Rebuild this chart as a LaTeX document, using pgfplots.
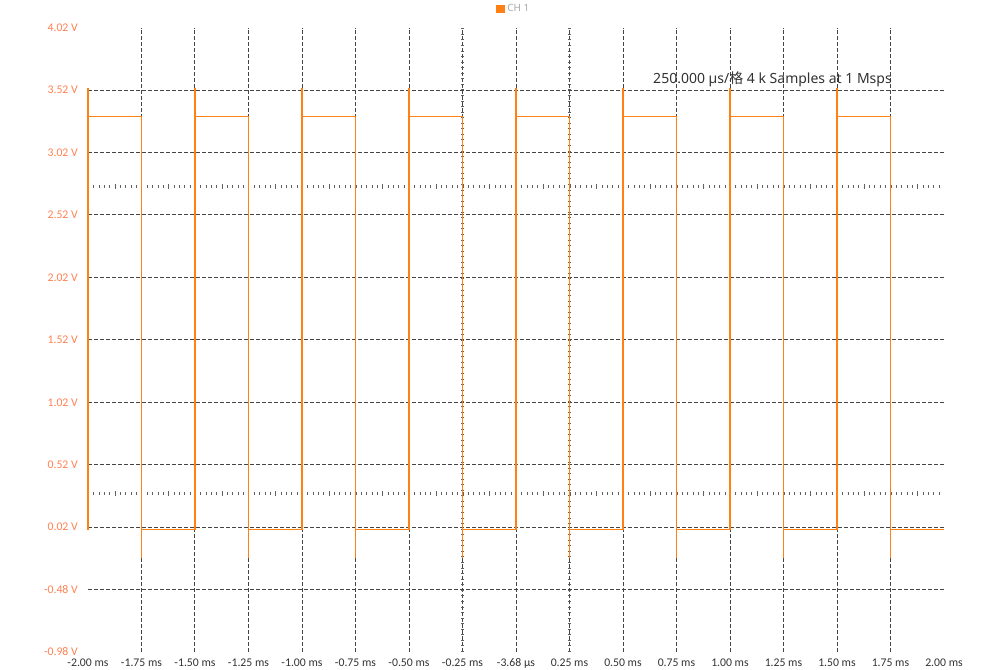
\documentclass[border=0pt]{standalone}
\usepackage{pgfplots}
\pgfplotsset{compat=1.18}
\usepackage{fontspec}
\setmainfont{Noto Sans}
\newfontfamily\tickfont{Carlito}
\newfontfamily\cjk{Noto Sans CJK SC}
\definecolor{trace}{RGB}{255,128,20}
\definecolor{ylab}{RGB}{255,128,80}
\definecolor{gridc}{RGB}{68,68,68}
\definecolor{titlec}{RGB}{50,50,50}
\definecolor{legc}{RGB}{170,170,170}
\begin{document}
\begin{tikzpicture}
\path[use as bounding box] (-66pt,-12.75pt) rectangle (687pt,489pt);
\begin{axis}[
  at={(0,0)}, anchor=south west,
  scale only axis, width=642pt, height=468.3pt,
  xmin=-2, xmax=2, ymin=-0.98, ymax=4.02,
  axis line style={draw=none},
  major tick length=0pt, minor tick length=0pt,
  xtick={-2,-1.75,-1.5,-1.25,-1,-0.75,-0.5,-0.25,0,0.25,0.5,0.75,1,1.25,1.5,1.75,2},
  xticklabels={-2.00 ms,-1.75 ms,-1.50 ms,-1.25 ms,-1.00 ms,-0.75 ms,-0.50 ms,-0.25 ms,-3.68 µs,0.25 ms,0.50 ms,0.75 ms,1.00 ms,1.25 ms,1.50 ms,1.75 ms,2.00 ms},
  ytick={-0.98,-0.48,0.02,0.52,1.02,1.52,2.02,2.52,3.02,3.52,4.02},
  yticklabels={-0.98 V,-0.48 V,0.02 V,0.52 V,1.02 V,1.52 V,2.02 V,2.52 V,3.02 V,3.52 V,4.02 V},
  extra x ticks={-1.75,-1.5,-1.25,-1,-0.75,-0.5,-0.25,0,0.25,0.5,0.75,1,1.25,1.5,1.75},
  extra x tick labels={},
  extra x tick style={grid=major},
  extra y ticks={-0.48,0.02,0.52,1.02,1.52,2.02,2.52,3.02,3.52},
  extra y tick labels={},
  extra y tick style={grid=major},
  major grid style={gridc, line width=0.75pt, dash pattern=on 3pt off 1.5pt},
  xticklabel style={font=\tickfont\fontsize{8.8}{10}\selectfont, text=titlec, anchor=base, inner sep=0pt, yshift=-11pt},
  yticklabel style={font=\tickfont\fontsize{8.8}{10}\selectfont, text=ylab, anchor=east, inner sep=0pt, xshift=-7.5pt},
  legend style={at={(axis description cs:0.498,1)}, anchor=center, yshift=14pt, draw=none, fill=none,
    font=\fontsize{7.5}{9}\selectfont, text=legc, inner sep=0pt},
  legend image code/.code={\fill[trace] (0pt,-2.6pt) rectangle (5.2pt,2.6pt);},
  clip=false,
]
% ruler decorations
\addplot[gridc!85, line width=2.4pt, dash pattern=on 0.75pt off 3.2625pt, forget plot] coordinates {(-1.975,2.75) (1.99,2.75)};
\addplot[gridc!85, line width=2.4pt, dash pattern=on 0.75pt off 3.2625pt, forget plot] coordinates {(-1.975,0.29) (1.99,0.29)};
\addplot[gridc!85, line width=3.9pt, dash pattern=on 0.75pt off 39.375pt, forget plot] coordinates {(-1.875,2.75) (1.9,2.75)};
\addplot[gridc!85, line width=3.9pt, dash pattern=on 0.75pt off 39.375pt, forget plot] coordinates {(-1.875,0.29) (1.9,0.29)};
\addplot[gridc!85, line width=2.25pt, dash pattern=on 0.75pt off 3.42pt, forget plot] coordinates {(-0.25,-0.98) (-0.25,4.02)};
\addplot[gridc!85, line width=2.25pt, dash pattern=on 0.75pt off 3.42pt, forget plot] coordinates {(0.25,-0.98) (0.25,4.02)};
% trace
\addplot[trace, line width=1pt, line join=miter] coordinates {
(-2,0.0) (-2,3.535) (-2,3.31) (-1.75,3.31) (-1.75,-0.228) (-1.75,0.0)
(-1.5,0.0) (-1.5,3.535) (-1.5,3.31) (-1.25,3.31) (-1.25,-0.228) (-1.25,0.0)
(-1,0.0) (-1,3.535) (-1,3.31) (-0.75,3.31) (-0.75,-0.228) (-0.75,0.0)
(-0.5,0.0) (-0.5,3.535) (-0.5,3.31) (-0.25,3.31) (-0.25,-0.228) (-0.25,0.0)
(0,0.0) (0,3.535) (0,3.31) (0.25,3.31) (0.25,-0.228) (0.25,0.0)
(0.5,0.0) (0.5,3.535) (0.5,3.31) (0.75,3.31) (0.75,-0.228) (0.75,0.0)
(1,0.0) (1,3.535) (1,3.31) (1.25,3.31) (1.25,-0.228) (1.25,0.0)
(1.5,0.0) (1.5,3.535) (1.5,3.31) (1.75,3.31) (1.75,-0.228) (1.75,0.0)
(2,0.0)
};
\addlegendentry{CH 1}
\node[anchor=base east, text=titlec, font=\fontsize{10.5}{12}\selectfont, inner sep=0pt] at (axis cs:1.757,3.569) {250.000 µs/{\cjk 格} 4 k Samples at 1 Msps};
\end{axis}
\end{tikzpicture}
\end{document}
